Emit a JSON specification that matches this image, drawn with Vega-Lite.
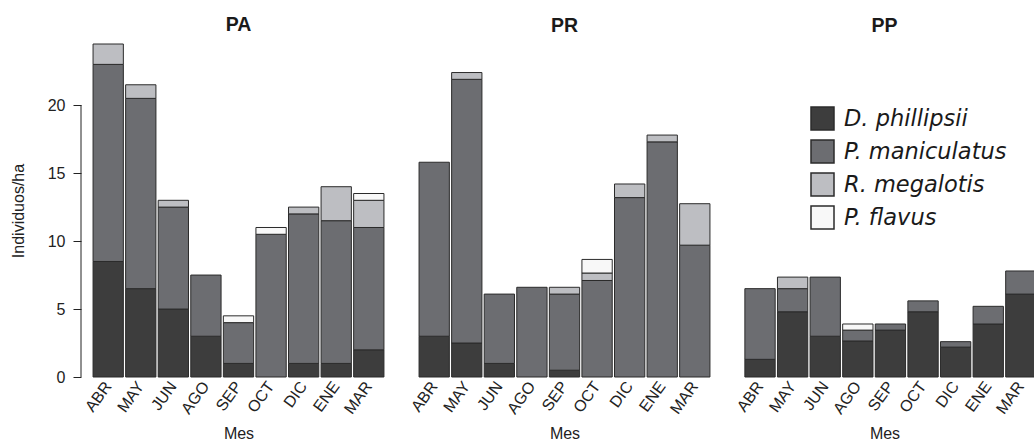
{
  "$schema": "https://vega.github.io/schema/vega-lite/v6.json",
  "autosize": {"type": "pad"},
  "padding": {"left": 10, "top": 15, "right": 0, "bottom": 0},
  "background": "white",
  "config": {
    "view": {"stroke": null},
    "font": "Liberation Sans",
    "axis": {"grid": false, "labelColor": "#222", "titleColor": "#222", "tickColor": "#222", "domainColor": "#222", "titleFontWeight": "normal"},
    "title": {"font": "Liberation Sans", "fontSize": 19.5, "fontWeight": "bold", "color": "#1a1a1a", "baseline": "alphabetic", "offset": 8}
  },
  "datasets": {
    "especies": [
      {"especie": "D. phillipsii", "orden": 1},
      {"especie": "P. maniculatus", "orden": 2},
      {"especie": "R. megalotis", "orden": 3},
      {"especie": "P. flavus", "orden": 4}
    ],
    "conteos": [
      {"panel": "PA", "mes": "ABR", "especie": "D. phillipsii", "valor": 8.5},
      {"panel": "PA", "mes": "ABR", "especie": "P. maniculatus", "valor": 14.5},
      {"panel": "PA", "mes": "ABR", "especie": "R. megalotis", "valor": 1.5},
      {"panel": "PA", "mes": "MAY", "especie": "D. phillipsii", "valor": 6.5},
      {"panel": "PA", "mes": "MAY", "especie": "P. maniculatus", "valor": 14},
      {"panel": "PA", "mes": "MAY", "especie": "R. megalotis", "valor": 1},
      {"panel": "PA", "mes": "JUN", "especie": "D. phillipsii", "valor": 5},
      {"panel": "PA", "mes": "JUN", "especie": "P. maniculatus", "valor": 7.5},
      {"panel": "PA", "mes": "JUN", "especie": "R. megalotis", "valor": 0.5},
      {"panel": "PA", "mes": "AGO", "especie": "D. phillipsii", "valor": 3},
      {"panel": "PA", "mes": "AGO", "especie": "P. maniculatus", "valor": 4.5},
      {"panel": "PA", "mes": "SEP", "especie": "D. phillipsii", "valor": 1},
      {"panel": "PA", "mes": "SEP", "especie": "P. maniculatus", "valor": 3},
      {"panel": "PA", "mes": "SEP", "especie": "P. flavus", "valor": 0.5},
      {"panel": "PA", "mes": "OCT", "especie": "P. maniculatus", "valor": 10.5},
      {"panel": "PA", "mes": "OCT", "especie": "P. flavus", "valor": 0.5},
      {"panel": "PA", "mes": "DIC", "especie": "D. phillipsii", "valor": 1},
      {"panel": "PA", "mes": "DIC", "especie": "P. maniculatus", "valor": 11},
      {"panel": "PA", "mes": "DIC", "especie": "R. megalotis", "valor": 0.5},
      {"panel": "PA", "mes": "ENE", "especie": "D. phillipsii", "valor": 1},
      {"panel": "PA", "mes": "ENE", "especie": "P. maniculatus", "valor": 10.5},
      {"panel": "PA", "mes": "ENE", "especie": "R. megalotis", "valor": 2.5},
      {"panel": "PA", "mes": "MAR", "especie": "D. phillipsii", "valor": 2},
      {"panel": "PA", "mes": "MAR", "especie": "P. maniculatus", "valor": 9},
      {"panel": "PA", "mes": "MAR", "especie": "R. megalotis", "valor": 2},
      {"panel": "PA", "mes": "MAR", "especie": "P. flavus", "valor": 0.5},

      {"panel": "PR", "mes": "ABR", "especie": "D. phillipsii", "valor": 3},
      {"panel": "PR", "mes": "ABR", "especie": "P. maniculatus", "valor": 12.8},
      {"panel": "PR", "mes": "MAY", "especie": "D. phillipsii", "valor": 2.5},
      {"panel": "PR", "mes": "MAY", "especie": "P. maniculatus", "valor": 19.4},
      {"panel": "PR", "mes": "MAY", "especie": "R. megalotis", "valor": 0.5},
      {"panel": "PR", "mes": "JUN", "especie": "D. phillipsii", "valor": 1},
      {"panel": "PR", "mes": "JUN", "especie": "P. maniculatus", "valor": 5.1},
      {"panel": "PR", "mes": "AGO", "especie": "P. maniculatus", "valor": 6.6},
      {"panel": "PR", "mes": "SEP", "especie": "D. phillipsii", "valor": 0.5},
      {"panel": "PR", "mes": "SEP", "especie": "P. maniculatus", "valor": 5.6},
      {"panel": "PR", "mes": "SEP", "especie": "R. megalotis", "valor": 0.5},
      {"panel": "PR", "mes": "OCT", "especie": "P. maniculatus", "valor": 7.1},
      {"panel": "PR", "mes": "OCT", "especie": "R. megalotis", "valor": 0.55},
      {"panel": "PR", "mes": "OCT", "especie": "P. flavus", "valor": 1.0},
      {"panel": "PR", "mes": "DIC", "especie": "P. maniculatus", "valor": 13.2},
      {"panel": "PR", "mes": "DIC", "especie": "R. megalotis", "valor": 1.0},
      {"panel": "PR", "mes": "ENE", "especie": "P. maniculatus", "valor": 17.3},
      {"panel": "PR", "mes": "ENE", "especie": "R. megalotis", "valor": 0.5},
      {"panel": "PR", "mes": "MAR", "especie": "P. maniculatus", "valor": 9.7},
      {"panel": "PR", "mes": "MAR", "especie": "R. megalotis", "valor": 3.05},

      {"panel": "PP", "mes": "ABR", "especie": "D. phillipsii", "valor": 1.3},
      {"panel": "PP", "mes": "ABR", "especie": "P. maniculatus", "valor": 5.2},
      {"panel": "PP", "mes": "MAY", "especie": "D. phillipsii", "valor": 4.8},
      {"panel": "PP", "mes": "MAY", "especie": "P. maniculatus", "valor": 1.7},
      {"panel": "PP", "mes": "MAY", "especie": "R. megalotis", "valor": 0.85},
      {"panel": "PP", "mes": "JUN", "especie": "D. phillipsii", "valor": 3.0},
      {"panel": "PP", "mes": "JUN", "especie": "P. maniculatus", "valor": 4.35},
      {"panel": "PP", "mes": "AGO", "especie": "D. phillipsii", "valor": 2.65},
      {"panel": "PP", "mes": "AGO", "especie": "P. maniculatus", "valor": 0.8},
      {"panel": "PP", "mes": "AGO", "especie": "P. flavus", "valor": 0.45},
      {"panel": "PP", "mes": "SEP", "especie": "D. phillipsii", "valor": 3.45},
      {"panel": "PP", "mes": "SEP", "especie": "P. maniculatus", "valor": 0.45},
      {"panel": "PP", "mes": "OCT", "especie": "D. phillipsii", "valor": 4.8},
      {"panel": "PP", "mes": "OCT", "especie": "P. maniculatus", "valor": 0.8},
      {"panel": "PP", "mes": "DIC", "especie": "D. phillipsii", "valor": 2.2},
      {"panel": "PP", "mes": "DIC", "especie": "P. maniculatus", "valor": 0.4},
      {"panel": "PP", "mes": "ENE", "especie": "D. phillipsii", "valor": 3.9},
      {"panel": "PP", "mes": "ENE", "especie": "P. maniculatus", "valor": 1.3},
      {"panel": "PP", "mes": "MAR", "especie": "D. phillipsii", "valor": 6.1},
      {"panel": "PP", "mes": "MAR", "especie": "P. maniculatus", "valor": 1.7}
    ],
    "ejeY": [{"desde": 0, "hasta": 20}]
  },
  "bounds": "flush",
  "spacing": 11,
  "resolve": {"scale": {"color": "shared"}},
  "hconcat": [
    {
      "width": 315,
      "height": 333,
      "title": {"text": "PA"},
      "layer": [
        {
          "data": {"name": "conteos"},
          "transform": [
            {"filter": "datum.panel === 'PA'"},
            {"lookup": "especie", "from": {"data": {"name": "especies"}, "key": "especie", "fields": ["orden"]}}
          ],
          "mark": {"type": "bar", "stroke": "#2b2b2b", "strokeWidth": 1, "opacity": 1},
          "encoding": {
            "x": {"field": "mes", "type": "nominal", "sort": ["ABR", "MAY", "JUN", "AGO", "SEP", "OCT", "DIC", "ENE", "MAR"],
                  "scale": {"paddingInner": 0.07, "paddingOuter": 0.37},
                  "axis": {"title": "Mes", "labelAngle": -54, "labelFontSize": 16, "ticks": false, "domain": false, "labelPadding": 6, "titleFontSize": 16, "titlePadding": 9}},
            "y": {"field": "valor", "type": "quantitative", "stack": "zero",
                  "scale": {"domain": [0, 24.5], "nice": false, "zero": true},
                  "axis": {"title": "Individuos/ha", "values": [0, 5, 10, 15, 20], "domain": false, "tickSize": 8, "labelPadding": 8, "labelFontSize": 16, "titleFontSize": 16, "titlePadding": 21}},
            "order": {"field": "orden", "type": "quantitative", "sort": "ascending"},
            "color": {"field": "especie", "type": "nominal",
                      "scale": {"domain": ["D. phillipsii", "P. maniculatus", "R. megalotis", "P. flavus"], "range": ["#3d3d3d", "#6c6d71", "#bdbec2", "#f8f8f8"]},
                      "legend": {"title": null, "orient": "none", "legendX": 729, "legendY": 62, "padding": 0,
                                 "symbolType": "square", "symbolSize": 529, "symbolStrokeColor": "#333", "symbolStrokeWidth": 1.5, "symbolOpacity": 1,
                                 "labelFont": "DejaVu Sans", "labelFontStyle": "italic", "labelFontSize": 22.5, "labelColor": "#1a1a1a", "labelOffset": 9, "rowPadding": 4, "labelLimit": 300}}
          }
        },
        {
          "data": {"name": "ejeY"},
          "mark": {"type": "rule", "color": "#222", "strokeWidth": 1},
          "encoding": {
            "x": {"value": 0},
            "y": {"field": "desde", "type": "quantitative"},
            "y2": {"field": "hasta"}
          }
        }
      ]
    },
    {
      "width": 315,
      "height": 333,
      "title": {"text": "PR"},
      "data": {"name": "conteos"},
      "transform": [
        {"filter": "datum.panel === 'PR'"},
        {"lookup": "especie", "from": {"data": {"name": "especies"}, "key": "especie", "fields": ["orden"]}}
      ],
      "mark": {"type": "bar", "stroke": "#2b2b2b", "strokeWidth": 1, "opacity": 1},
      "encoding": {
        "x": {"field": "mes", "type": "nominal", "sort": ["ABR", "MAY", "JUN", "AGO", "SEP", "OCT", "DIC", "ENE", "MAR"],
              "scale": {"paddingInner": 0.07, "paddingOuter": 0.37},
              "axis": {"title": "Mes", "labelAngle": -54, "labelFontSize": 16, "ticks": false, "domain": false, "labelPadding": 6, "titleFontSize": 16, "titlePadding": 9}},
        "y": {"field": "valor", "type": "quantitative", "stack": "zero",
              "scale": {"domain": [0, 24.5], "nice": false, "zero": true},
              "axis": null},
        "order": {"field": "orden", "type": "quantitative", "sort": "ascending"},
        "color": {"field": "especie", "type": "nominal",
                  "scale": {"domain": ["D. phillipsii", "P. maniculatus", "R. megalotis", "P. flavus"], "range": ["#3d3d3d", "#6c6d71", "#bdbec2", "#f8f8f8"]}}
      }
    },
    {
      "width": 303,
      "height": 333,
      "title": {"text": "PP"},
      "data": {"name": "conteos"},
      "transform": [
        {"filter": "datum.panel === 'PP'"},
        {"lookup": "especie", "from": {"data": {"name": "especies"}, "key": "especie", "fields": ["orden"]}}
      ],
      "mark": {"type": "bar", "stroke": "#2b2b2b", "strokeWidth": 1, "opacity": 1},
      "encoding": {
        "x": {"field": "mes", "type": "nominal", "sort": ["ABR", "MAY", "JUN", "AGO", "SEP", "OCT", "DIC", "ENE", "MAR"],
              "scale": {"paddingInner": 0.07, "paddingOuter": 0.182, "align": 1},
              "axis": {"title": "Mes", "labelAngle": -54, "labelFontSize": 16, "ticks": false, "domain": false, "labelPadding": 6, "titleFontSize": 16, "titlePadding": 9}},
        "y": {"field": "valor", "type": "quantitative", "stack": "zero",
              "scale": {"domain": [0, 24.5], "nice": false, "zero": true},
              "axis": null},
        "order": {"field": "orden", "type": "quantitative", "sort": "ascending"},
        "color": {"field": "especie", "type": "nominal",
                  "scale": {"domain": ["D. phillipsii", "P. maniculatus", "R. megalotis", "P. flavus"], "range": ["#3d3d3d", "#6c6d71", "#bdbec2", "#f8f8f8"]}}
      }
    }
  ]
}
